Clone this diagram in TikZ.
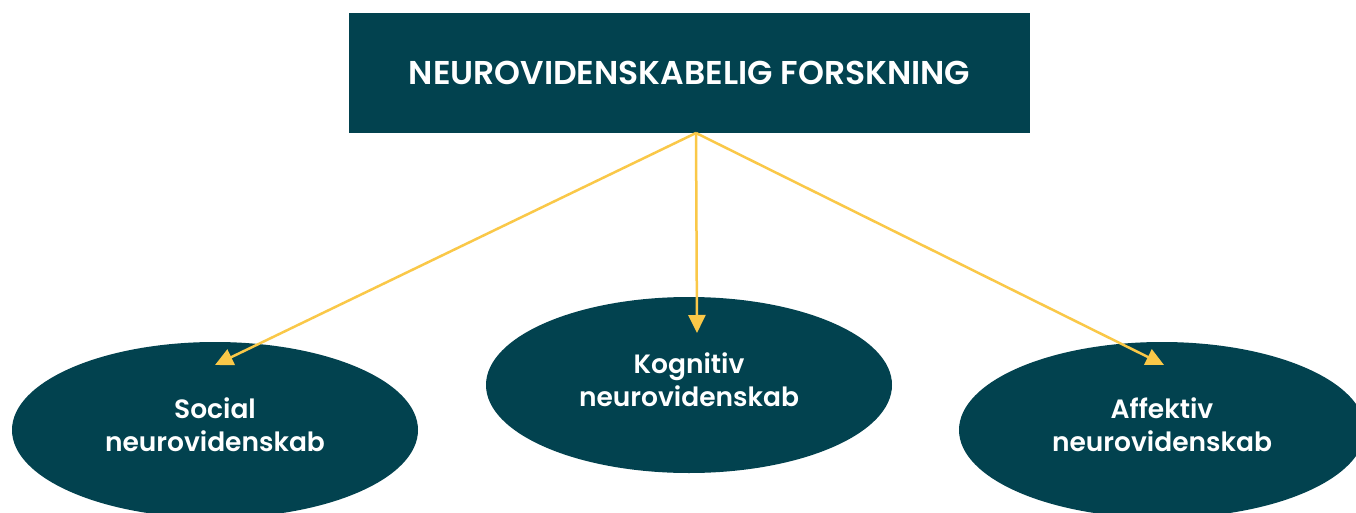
\documentclass[tikz,border=0pt]{standalone}
\usepackage{fontspec}
\setmainfont{Poppins}[BoldFont={* SemiBold}]
\usetikzlibrary{shapes.geometric,arrows.meta,backgrounds}
\definecolor{teal}{RGB}{2,66,79}
\definecolor{gold}{RGB}{250,200,72}
\tikzset{
  topbox/.style={fill=teal,draw=none,minimum width=681pt,minimum height=120pt,inner sep=0pt,
    text=white,font=\bfseries\fontsize{33}{38}\selectfont},
  oval/.style={ellipse,fill=teal,draw=none,minimum width=406pt,minimum height=176pt,inner sep=0pt,
    text=white,align=center,font=\bfseries\fontsize{26.5}{33}\selectfont},
  lift/.style={text depth=10pt},
  arr/.style={draw=gold,line width=2.5pt,-{Triangle[length=18pt,width=17pt]}},
  link/.style={draw=gold,line width=3pt}
}
\begin{document}
\begin{tikzpicture}[x=1pt,y=-1pt]
\clip (0,0) rectangle (1356,513);
\fill[white] (0,0) rectangle (1356,513);
\node[topbox] (top) at (689.5,73) {NEUROVIDENSKABELIG FORSKNING};
\node[oval,lift] (social) at (215,430) {Social\\neurovidenskab};
\node[oval,lift] (kog) at (689,385) {Kognitiv\\neurovidenskab};
\node[oval,lift] (aff) at (1162,430) {Affektiv\\neurovidenskab};
\coordinate (src) at (696,133);
\coordinate (tS) at (215,365);
\coordinate (tK) at (697,333);
\coordinate (tA) at (1164,365);
\begin{scope}[on background layer]
\draw[link] (social.8) -- (kog.186);
\draw[link] (kog.354) -- (aff.172);
\end{scope}
\draw[arr] (src) -- (tS);
\draw[arr] (src) -- (tK);
\draw[arr] (src) -- (tA);
\end{tikzpicture}
\end{document}
